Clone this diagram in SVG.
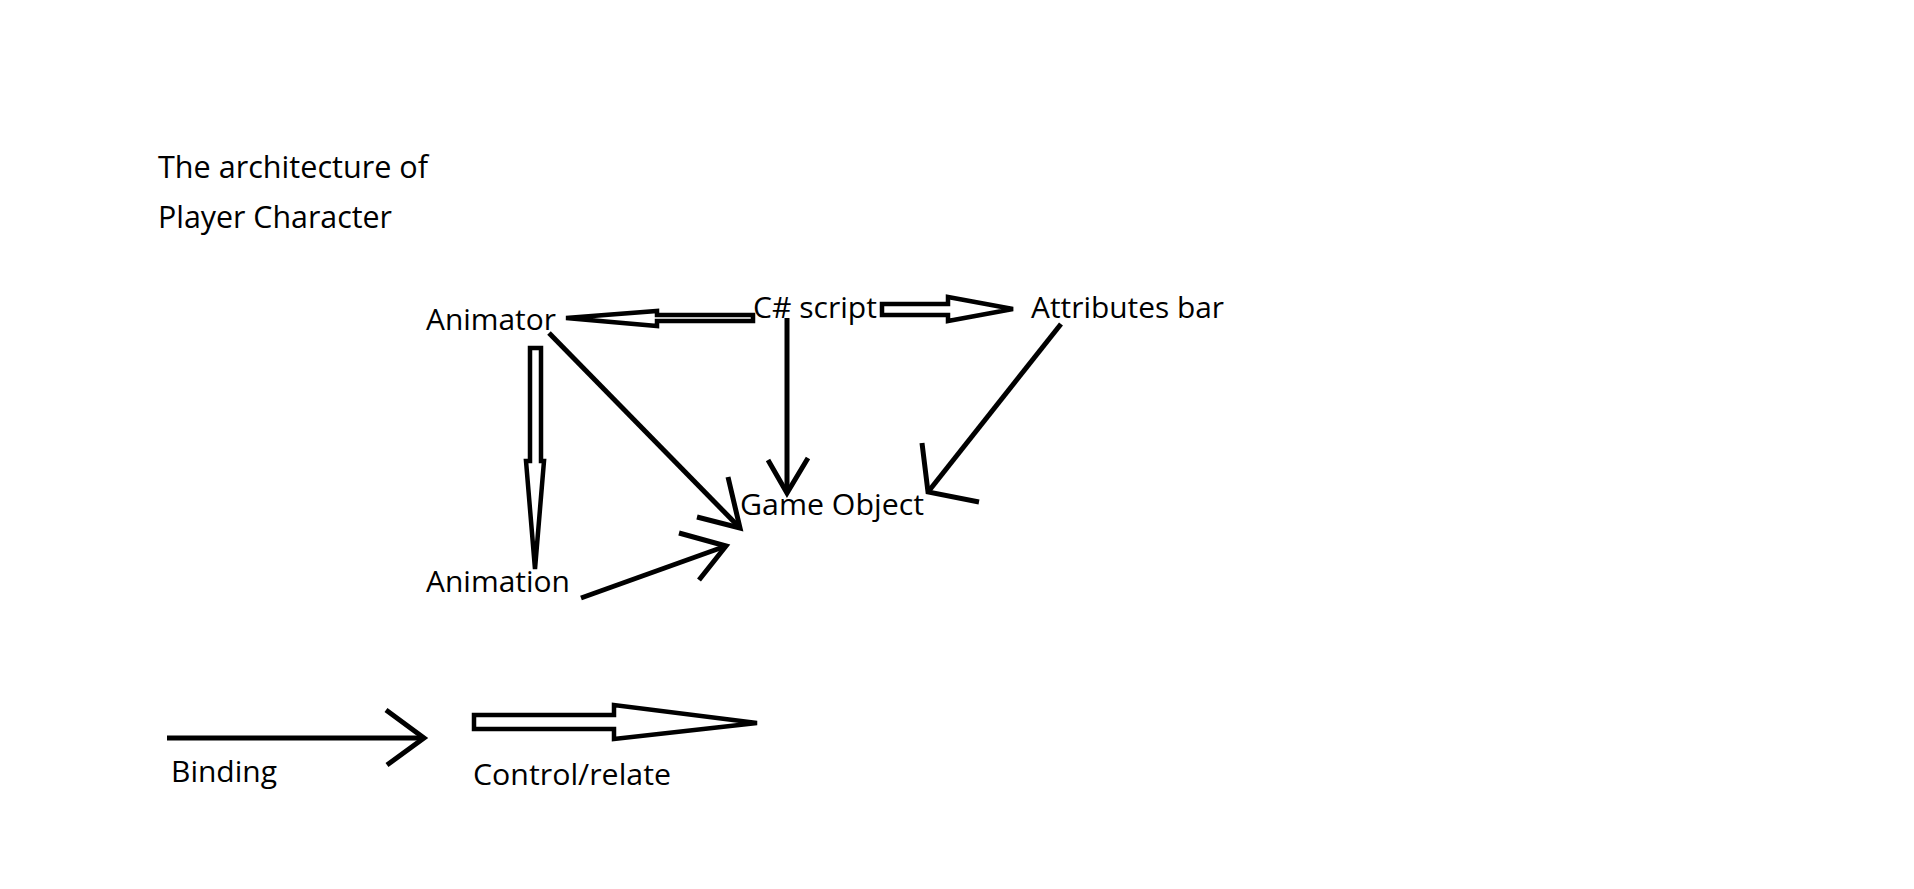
<svg xmlns="http://www.w3.org/2000/svg" width="1914" height="889" viewBox="0 0 1914 889">
<style>
text{font-family:"Open Sans","Noto Sans","Liberation Sans",sans-serif;fill:#000}
.t{font-size:31px}
.n{font-size:30px}
.ln{fill:none;stroke:#000;stroke-width:5;stroke-linecap:butt;stroke-linejoin:miter}
.ho{fill:#fff;stroke:#000;stroke-width:4.5;stroke-linejoin:miter}
</style>
<rect width="1914" height="889" fill="#fff"/>
<g id="title">
<text class="t" x="158" y="178" textLength="270" lengthAdjust="spacingAndGlyphs">The architecture of</text>
<text class="t" x="158" y="228" textLength="234" lengthAdjust="spacingAndGlyphs">Player Character</text>
</g>
<g id="connectors">
<polygon class="ho" points="566,318 657,311 657,315 753,315 753,321 657,321 657,326"/>
<polygon class="ho" points="1013,309 948,297 948,304 882,304 882,315 948,315 948,321"/>
<polygon class="ho" points="535,569 526,461 530,461 530,348 541,348 541,461 544,461"/>
<line class="ln" x1="549" y1="333" x2="740" y2="528"/>
<polyline class="ln" points="728,477 740,528 697,517"/>
<line class="ln" x1="787" y1="318" x2="787" y2="493"/>
<polyline class="ln" points="768,460 787,493 808,458"/>
<line class="ln" x1="1061" y1="324" x2="928" y2="492"/>
<polyline class="ln" points="922,443 928,492 979,502"/>
<line class="ln" x1="581" y1="598" x2="726" y2="546"/>
<polyline class="ln" points="679,533 726,546 699,580"/>
</g>
<g id="node-animator"><text class="n" x="426" y="330" textLength="130" lengthAdjust="spacingAndGlyphs">Animator</text></g>
<g id="node-csharp"><text class="n" x="753" y="318" textLength="124" lengthAdjust="spacingAndGlyphs">C# script</text></g>
<g id="node-attributes"><text class="n" x="1031" y="318" textLength="193" lengthAdjust="spacingAndGlyphs">Attributes bar</text></g>
<g id="node-gameobject"><text class="n" x="740" y="515" textLength="184" lengthAdjust="spacingAndGlyphs">Game Object</text></g>
<g id="node-animation"><text class="n" x="426" y="592" textLength="144" lengthAdjust="spacingAndGlyphs">Animation</text></g>
<g id="legend">
<line class="ln" x1="167" y1="738" x2="424" y2="738"/>
<polyline class="ln" points="386,710 424,738 387,765"/>
<text class="n" x="171" y="782" textLength="106" lengthAdjust="spacingAndGlyphs">Binding</text>
<polygon class="ho" points="757,723 614,705 614,715 474,715 474,729 614,729 614,739"/>
<text class="n" x="473" y="785" textLength="198" lengthAdjust="spacingAndGlyphs">Control/relate</text>
</g>
</svg>
